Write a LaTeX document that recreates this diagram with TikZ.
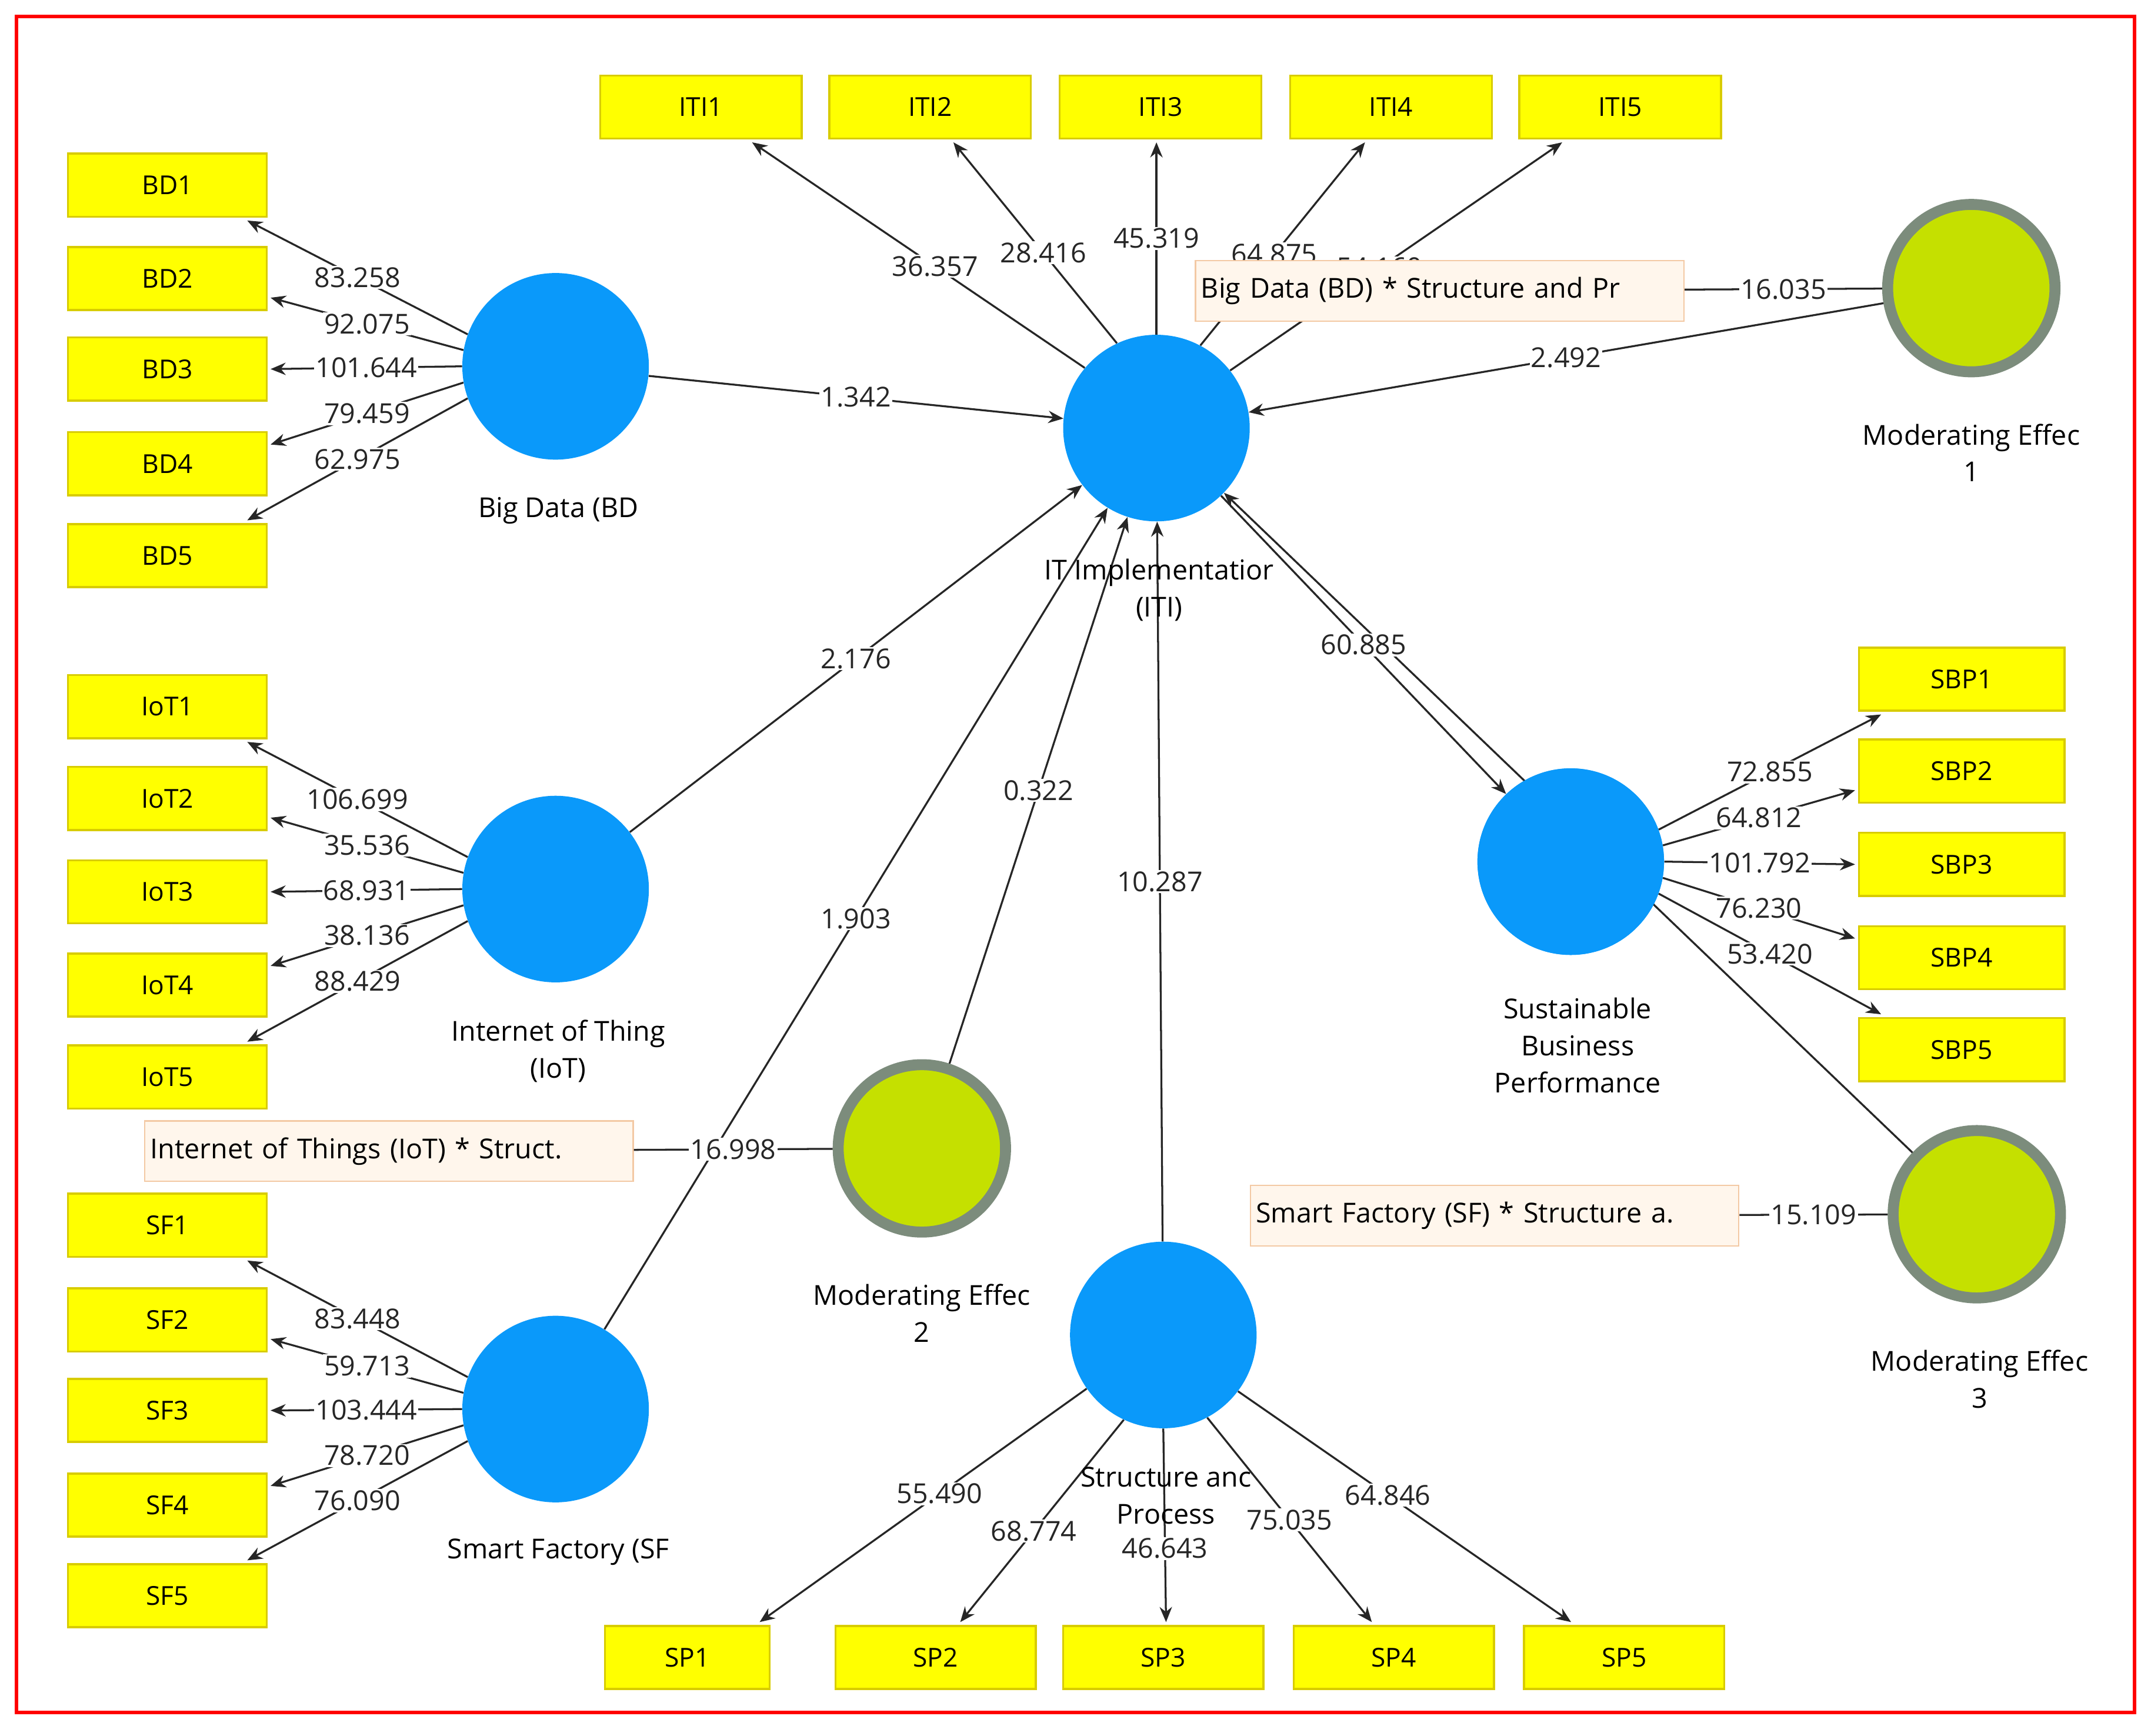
\documentclass[tikz,border=0pt]{standalone}
\usepackage{fontspec}
\setmainfont{Open Sans}
\usetikzlibrary{calc,arrows.meta}
\definecolor{ybox}{HTML}{FFFF00}
\definecolor{yedge}{HTML}{D8CC00}
\definecolor{lblue}{HTML}{0A99FA}
\definecolor{mgreen}{HTML}{C5E000}
\definecolor{mgrey}{HTML}{7C8C7C}
\definecolor{ifill}{HTML}{FFF6EC}
\definecolor{iedge}{HTML}{F3C9A4}
\begin{document}
\begin{tikzpicture}[x=1pt,y=-1pt,
  ind/.style={draw=yedge,line width=1.5pt,fill=ybox,minimum height=46pt,inner sep=0pt,font=\fontsize{19}{22}\selectfont},
  lat/.style={circle,fill=lblue,minimum size=136pt,inner sep=0pt},
  mod/.style={circle,fill=mgreen,draw=mgrey,line width=8pt,minimum size=122pt,inner sep=0pt},
  ibox/.style={draw=iedge,line width=1pt,fill=ifill,minimum height=44pt,minimum width=356pt,text width=348pt,inner sep=4pt,anchor=west,font=\fontsize{20}{22}\selectfont},
  lvcap/.style={align=center,font=\fontsize{20}{27}\selectfont},
  arr/.style={draw=black!85,line width=1.4pt,-{Stealth[length=11pt,width=9pt]}},
  ln/.style={draw=black!85,line width=1.4pt},
  val/.style={fill=white,inner sep=1pt,font=\fontsize{20}{22}\selectfont,text=black!85}]
\useasboundingbox (0,0) rectangle (1568,1265);
\draw[red,line width=2.5pt] (12,12) rectangle (1556,1248);
\foreach \n/\y in {1/135,2/203,3/269,4/338,5/405}{\node[ind,minimum width=145pt] (BD\n) at (122,\y) {BD\n};}
\foreach \n/\y in {1/515,2/582,3/650,4/718,5/785}{\node[ind,minimum width=145pt] (IoT\n) at (122,\y) {IoT\n};}
\foreach \n/\y in {1/893,2/962,3/1028,4/1097,5/1163}{\node[ind,minimum width=145pt] (SF\n) at (122,\y) {SF\n};}
\foreach \n/\x in {1/511,2/678,3/846,4/1014,5/1181}{\node[ind,minimum width=147pt] (ITI\n) at (\x,78) {ITI\n};}
\foreach \n/\y in {1/495,2/562,3/630,4/698,5/765}{\node[ind,minimum width=150pt] (SBP\n) at (1430,\y) {SBP\n};}
\node[ind,minimum width=120pt] (SP1) at (501,1208) {SP1};
\foreach \n/\x in {2/682,3/848,4/1016,5/1184}{\node[ind,minimum width=146pt] (SP\n) at (\x,1208) {SP\n};}
\node[lat] (bd) at (405,267) {};
\node[lat] (iti) at (843,312) {};
\node[lat] (iot) at (405,648) {};
\node[lat] (sf) at (405,1027) {};
\node[lat] (sbp) at (1145,628) {};
\node[lat] (sp) at (848,973) {};
\node[mod] (m1) at (1437,210) {};
\node[mod] (m2) at (672,837) {};
\node[mod] (m3) at (1441,885) {};
\node[ibox] (i1) at (871,212) {Big Data (BD) * Structure and Pr};
\node[ibox] (i2) at (105,839) {Internet of Things (IoT) * Struct.};
\node[ibox] (i3) at (911,886) {Smart Factory (SF) * Structure a.};
\newcommand\loadings[7]{%
 \draw[arr] (#1.160) -- ($(#21.south east)+(-15,2)$) node[val,pos=.5]{#3};
 \draw[arr] (#1.170) -- ($(#22.east)+(2,14)$) node[val,pos=.5]{#4};
 \draw[arr] (#1.180) -- ($(#23.east)+(2,0)$) node[val,pos=.5]{#5};
 \draw[arr] (#1.190) -- ($(#24.east)+(2,-14)$) node[val,pos=.5]{#6};
 \draw[arr] (#1.200) -- ($(#25.north east)+(-15,-2)$) node[val,pos=.5]{#7};}
\loadings{bd}{BD}{83.258}{92.075}{101.644}{79.459}{62.975}
\loadings{iot}{IoT}{106.699}{35.536}{68.931}{38.136}{88.429}
\loadings{sf}{SF}{83.448}{59.713}{103.444}{78.720}{76.090}
\draw[arr] (sbp.20) -- ($(SBP1.south west)+(17,2)$) node[val,pos=.5]{72.855};
\draw[arr] (sbp.10) -- ($(SBP2.west)+(-2,14)$) node[val,pos=.5]{64.812};
\draw[arr] (sbp.0) -- ($(SBP3.west)+(-2,0)$) node[val,pos=.5]{101.792};
\draw[arr] (sbp.-10) -- ($(SBP4.west)+(-2,-14)$) node[val,pos=.5]{76.230};
\draw[arr] (sbp.-20) -- ($(SBP5.north west)+(17,-2)$) node[val,pos=.5]{53.420};
\draw[arr] (iti.140) -- ($(ITI1.south east)+(-37,2)$) node[val,pos=.45]{36.357};
\draw[arr] (iti.115) -- ($(ITI2.south)+(17,2)$) node[val,pos=.45]{28.416};
\draw[arr] (iti.90) -- ($(ITI3.south)+(-3,2)$) node[val,pos=.5]{45.319};
\draw[arr] (iti.62) -- ($(ITI4.south)+(-19,2)$) node[val,pos=.45]{64.875};
\draw[arr] (iti.38) -- ($(ITI5.south west)+(32,2)$) node[val,pos=.45]{54.160};
\draw[arr] (sp.-145) -- ($(SP1.north east)+(-8,-2)$) node[val,pos=.45]{55.490};
\draw[arr] (sp.-115) -- ($(SP2.north)+(18,-2)$) node[val,pos=.55]{68.774};
\draw[arr] (sp.-90) -- ($(SP3.north)+(2,-2)$) node[val,pos=.62]{46.643};
\draw[arr] (sp.-62) -- ($(SP4.north)+(-16,-2)$) node[val,pos=.5]{75.035};
\draw[arr] (sp.-37) -- ($(SP5.north west)+(35,-2)$) node[val,pos=.45]{64.846};
\draw[arr] (m3) -- (iti);
\node[lat] at (sbp) {};
\draw[arr] (bd) -- (iti) node[val,pos=.5]{1.342};
\draw[arr] (iot) -- (iti) node[val,pos=.5]{2.176};
\draw[arr] (sf) -- (iti) node[val,pos=.5]{1.903};
\draw[arr] (m2) -- (iti) node[val,pos=.5]{0.322};
\draw[arr] (sp) -- (iti) node[val,pos=.5]{10.287};
\draw[arr] (m1) -- (iti) node[val,pos=.5]{2.492};
\draw[arr] (iti) -- (sbp) node[val,pos=.5]{60.885};
\draw[ln] (i1) -- (m1) node[val,pos=.5]{16.035};
\draw[ln] (i2) -- (m2) node[val,pos=.5]{16.998};
\draw[ln] (i3) -- (m3) node[val,pos=.5]{15.109};
\node[ibox] at (871,212) {Big Data (BD) * Structure and Pr};
\node[lvcap] (cbd) at (407,372) {Big Data (BD};
\node[lvcap] (citi) at (845,430) {IT Implementatior\\(ITI)};
\node[lvcap] (ciot) at (407,766) {Internet of Thing\\(IoT)};
\node[lvcap] (csf) at (407,1131) {Smart Factory (SF};
\node[lvcap] (csbp) at (1150,762) {Sustainable\\Business\\Performance};
\node[lvcap] (csp) at (850,1090) {Structure anc\\Process};
\node[lvcap] (cm1) at (1437,330) {Moderating Effec\\1};
\node[lvcap] (cm2) at (672,957) {Moderating Effec\\2};
\node[lvcap] (cm3) at (1443,1005) {Moderating Effec\\3};
\end{tikzpicture}
\end{document}
